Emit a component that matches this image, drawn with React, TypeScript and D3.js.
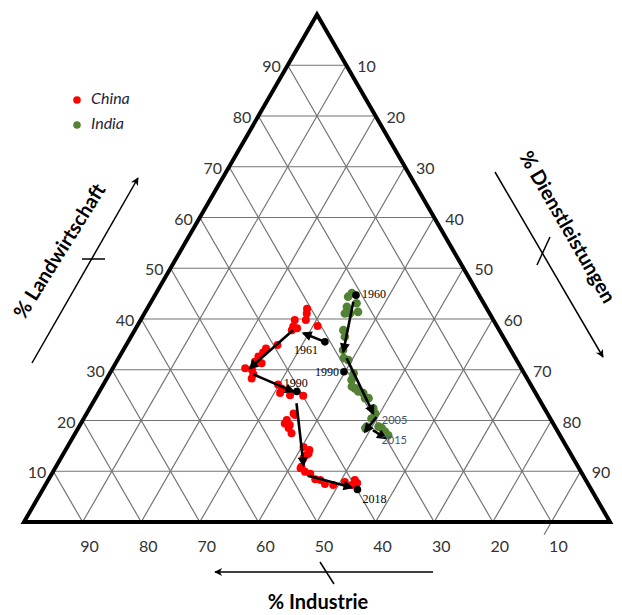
import React from 'react';
import * as d3 from 'd3';

// ternary rows: [agriculture %, industry %, services %]
const chinaPoints = [
  [42.0, 30.7, 27.3], [41.1, 31.2, 27.7], [39.8, 32.0, 28.2], [39.8, 33.9, 26.3], [38.6, 30.6, 30.8],
  [38.5, 34.8, 26.7], [38.2, 34.3, 27.5], [37.8, 35.4, 26.8], [34.9, 39.3, 25.8], [34.2, 41.6, 24.2],
  [33.4, 42.5, 24.1], [32.6, 43.7, 23.7], [31.3, 43.8, 24.9], [31.6, 44.8, 23.6], [30.3, 47.1, 22.6],
  [30.0, 46.1, 23.9], [29.1, 46.3, 24.6], [28.3, 47.0, 24.7], [27.1, 43.1, 29.8], [26.3, 42.9, 30.8],
  [25.4, 43.6, 31.0], [25.0, 42.1, 32.9], [24.9, 39.9, 35.2], [21.4, 43.3, 35.3], [21.1, 43.2, 35.7],
  [20.1, 45.1, 34.8], [19.4, 45.8, 34.8], [19.1, 45.1, 35.8], [18.5, 45.6, 35.9], [17.5, 45.6, 36.9],
  [14.8, 44.9, 40.3], [14.2, 44.2, 41.6], [13.5, 44.7, 41.8], [13.2, 45.2, 41.6], [12.6, 46.0, 41.4],
  [10.9, 47.2, 41.9], [10.6, 47.5, 41.9], [9.9, 47.1, 43.0], [9.5, 46.4, 44.1], [8.4, 46.1, 45.5],
  [8.3, 45.3, 46.4], [7.5, 44.9, 47.6], [7.3, 43.6, 49.1], [7.9, 41.3, 50.8], [8.3, 39.4, 52.3],
  [7.7, 39.3, 53.0], [7.3, 40.4, 52.3],
];

const indiaPoints = [
  [45.1, 21.5, 33.4], [44.4, 22.5, 33.1], [43.1, 21.7, 35.2], [42.4, 23.7, 33.9], [41.4, 22.3, 36.3],
  [41.1, 24.7, 34.2], [41.1, 23.8, 35.1], [37.8, 26.6, 35.6], [36.5, 27.0, 36.5], [33.9, 28.6, 37.5],
  [32.3, 29.3, 38.4], [31.9, 28.7, 39.4], [29.3, 29.1, 41.6], [28.0, 30.1, 41.9], [26.7, 30.7, 42.6],
  [26.3, 30.1, 43.6], [26.3, 30.4, 43.3], [25.7, 30.1, 44.2], [25.4, 29.4, 45.2], [24.4, 29.0, 46.6],
  [24.4, 29.6, 46.0], [22.4, 29.2, 48.4], [21.4, 29.4, 49.2], [20.4, 30.5, 49.1], [18.8, 32.1, 49.1],
  [18.5, 32.5, 49.0], [18.8, 30.1, 51.1], [18.5, 29.7, 51.8], [17.8, 29.5, 52.7], [17.1, 29.3, 53.6],
];

// trend arrows [from, to]
const chinaArrows = [
  [[35.5, 30.9, 33.6], [37.2, 33.7, 29.1]],
  [[37.8, 35.2, 27.0], [30.3, 46.3, 23.4]],
  [[29.1, 46.3, 24.6], [25.7, 41.2, 33.1]],
  [[23.4, 41.8, 34.8], [11.2, 46.7, 42.1]],
  [[9.1, 46.9, 44.0], [6.8, 40.7, 52.5]],
];

const indiaArrows = [
  [[43.4, 22.1, 34.5], [33.6, 28.7, 37.7]],
  [[32.3, 28.8, 38.9], [21.4, 29.7, 48.9]],
  [[20.7, 29.5, 49.8], [17.8, 32.9, 49.3]],
  [[18.1, 31.4, 50.5], [16.5, 30.1, 53.4]],
];

// year markers
const chinaYears = [
  { year: '1961', p: [35.5, 30.9, 33.6], dx: -31, dy: 12, anchor: 'start' },
  { year: '1990', p: [25.7, 40.6, 33.7], dx: -13, dy: -5, anchor: 'start' },
  { year: '2018', p: [6.4, 39.9, 53.7], dx: 5, dy: 13, anchor: 'start' },
];
const indiaYears = [
  { year: '1960', p: [44.7, 21.0, 34.3], dx: 6, dy: 3, anchor: 'start' },
  { year: '1990', p: [29.6, 30.6, 39.8], dx: -5, dy: 4, anchor: 'end' },
];
const indiaLabels = [
  { year: '2005', p: [19.3, 29.3, 51.4] },
  { year: '2015', p: [15.4, 31.3, 53.3] },
];

const ticks = [10, 20, 30, 40, 50, 60, 70, 80, 90];

const W = 622;
const H = 615;

const xS = d3.scaleLinear().domain([0, 100]).range([24, 610]);
const yS = d3.scaleLinear().domain([0, 100]).range([522, 14.5]);

// a = agriculture (top), i = industry (bottom-left), s = services (bottom-right)
const proj = (p: number[]) => {
  const a = p[0];
  const s = p[2];
  return [xS(s + a / 2), yS(a)];
};

const grey = '#737373';
const numFont = 'Lato, "Open Sans", sans-serif';

export default function App() {
  const corners = [proj([100, 0, 0]), proj([0, 100, 0]), proj([0, 0, 100])];
  const border = d3.line()(corners as any) + 'Z';

  const grid: number[][][] = [];
  ticks.forEach(k => {
    grid.push([proj([k, 100 - k, 0]), proj([k, 0, 100 - k])]);
    grid.push([proj([100 - k, k, 0]), proj([0, k, 100 - k])]);
    grid.push([proj([100 - k, 0, k]), proj([0, 100 - k, k])]);
  });
  // small overhang below the base
  const hang = [proj([0, 10, 90]), proj([-2.5, 12.5, 90])];

  const arrowLine = (ar: number[][], key: string) => {
    const [x1, y1] = proj(ar[0]);
    const [x2, y2] = proj(ar[1]);
    return <line key={key} x1={x1} y1={y1} x2={x2} y2={y2} stroke="#000" strokeWidth={2.6} markerEnd="url(#head)" />;
  };

  return (
    <svg width={W} height={H} style={{ position: 'absolute', left: 0, top: 0, background: '#fff' }}>
      <defs>
        <marker id="head" viewBox="0 0 10 10" refX={8} refY={5} markerWidth={11} markerHeight={10} markerUnits="userSpaceOnUse" orient="auto">
          <path d="M0,0 L10,5 L0,10 z" fill="#000" />
        </marker>
        <marker id="headSmall" viewBox="0 0 10 10" refX={9} refY={5} markerWidth={11} markerHeight={8} markerUnits="userSpaceOnUse" orient="auto">
          <path d="M0,0 L10,5 L0,10 L3,5 z" fill="#000" />
        </marker>
      </defs>

      {grid.map((g, i) => (
        <line key={'g' + i} x1={g[0][0]} y1={g[0][1]} x2={g[1][0]} y2={g[1][1]} stroke={grey} strokeWidth={1.2} />
      ))}
      <line x1={hang[0][0]} y1={hang[0][1]} x2={hang[1][0]} y2={hang[1][1]} stroke={grey} strokeWidth={1.2} />
      <path d={border} fill="none" stroke="#000" strokeWidth={4} strokeLinejoin="miter" />

      {/* tick labels */}
      <g fontFamily={numFont} fontSize={16} fill="#333">
        {ticks.map(k => {
          const [x, y] = proj([k, 100 - k, 0]);
          return <text key={'l' + k} x={x - 7} y={y + 3} textAnchor="end" dominantBaseline="middle">{k}</text>;
        })}
        {ticks.map(k => {
          const [x, y] = proj([100 - k, 0, k]);
          return <text key={'r' + k} x={x + 11} y={y + 3} textAnchor="start" dominantBaseline="middle">{k}</text>;
        })}
        {ticks.map(k => {
          const [x] = proj([0, k, 100 - k]);
          return <text key={'b' + k} x={x + 7} y={548} textAnchor="middle" dominantBaseline="middle">{k}</text>;
        })}
      </g>

      {/* series */}
      {chinaPoints.map((p, i) => {
        const [x, y] = proj(p);
        return <circle key={'c' + i} cx={x} cy={y} r={4} fill="#ff0000" />;
      })}
      {indiaPoints.map((p, i) => {
        const [x, y] = proj(p);
        return <circle key={'n' + i} cx={x} cy={y} r={4.3} fill="#548235" />;
      })}

      {chinaArrows.map((a, i) => arrowLine(a, 'ca' + i))}
      {indiaArrows.map((a, i) => arrowLine(a, 'ia' + i))}

      {[...chinaYears, ...indiaYears].map((d, i) => {
        const [x, y] = proj(d.p);
        return (
          <g key={'y' + i}>
            <circle cx={x} cy={y} r={3.8} fill="#000" />
            <text x={x + d.dx} y={y + d.dy} textAnchor={d.anchor as any} fontFamily='"Liberation Serif", serif' fontSize={12} fill="#000">{d.year}</text>
          </g>
        );
      })}
      {indiaLabels.map((d, i) => {
        const [x, y] = proj(d.p);
        return <text key={'il' + i} x={x} y={y} fontFamily={numFont} fontSize={11} fill="#44546a">{d.year}</text>;
      })}

      {/* legend */}
      <circle cx={77} cy={100} r={3.8} fill="#ff0000" />
      <text x={91} y={100} dominantBaseline="middle" fontFamily={numFont} fontStyle="italic" fontSize={16} fill="#1f2440">China</text>
      <circle cx={77} cy={125} r={3.8} fill="#548235" />
      <text x={91} y={125} dominantBaseline="middle" fontFamily={numFont} fontStyle="italic" fontSize={16} fill="#1f2440">India</text>

      {/* axis titles with direction arrows */}
      <line x1={32} y1={363} x2={138} y2={178} stroke="#000" strokeWidth={1.5} markerEnd="url(#headSmall)" />
      <line x1={82} y1={259} x2={105} y2={259} stroke="#000" strokeWidth={1.5} />
      <text transform="translate(61,252) rotate(-58)" textAnchor="middle" dominantBaseline="middle" fontFamily={numFont} fontWeight="bold" fontSize={20} fill="#000">% Landwirtschaft</text>

      <line x1={495} y1={172} x2={603} y2={357} stroke="#000" strokeWidth={1.5} markerEnd="url(#headSmall)" />
      <line x1={550} y1={237} x2={537} y2={265} stroke="#000" strokeWidth={1.5} />
      <text transform="translate(566,228) rotate(60)" textAnchor="middle" dominantBaseline="middle" fontFamily={numFont} fontWeight="bold" fontSize={20} fill="#000">% Dienstleistungen</text>

      <line x1={433} y1={572} x2={215} y2={572} stroke="#000" strokeWidth={1.5} markerEnd="url(#headSmall)" />
      <line x1={320} y1={562} x2={334} y2={584} stroke="#000" strokeWidth={1.5} />
      <text x={318} y={604} textAnchor="middle" dominantBaseline="middle" fontFamily={numFont} fontWeight="bold" fontSize={20} fill="#000">% Industrie</text>
    </svg>
  );
}
